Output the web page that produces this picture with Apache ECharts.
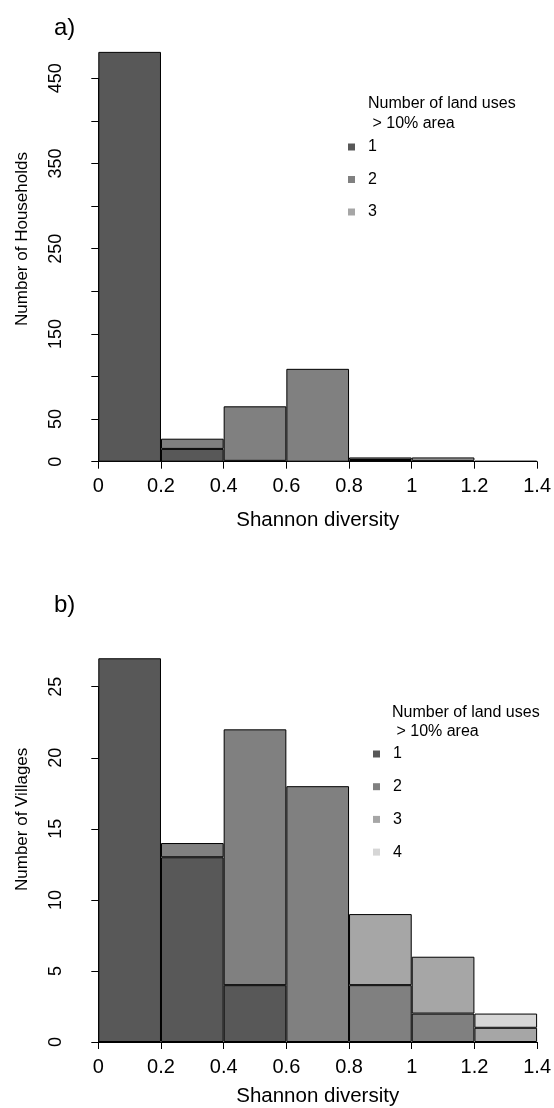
<!DOCTYPE html>
<html>
<head>
<meta charset="utf-8">
<script src="https://cdn.jsdelivr.net/npm/echarts@6/dist/echarts.min.js"></script>
<style>
html,body{margin:0;padding:0;background:#fff;}
#chart{width:554px;height:1108px;}
</style>
</head>
<body>
<div id="chart"></div>
<script>
// ---- data ----
var binLabels = ['0-0.2','0.2-0.4','0.4-0.6','0.6-0.8','0.8-1','1-1.2','1.2-1.4'];
var groupNames = ['1','2','3','4'];
var groupColors = ['#585858','#808080','#a6a6a6','#d6d6d6'];

// panel a) households, stacked by number of land uses
var households1 = [481, 15, 1, 0, 2, 0, 0];
var households2 = [0, 12, 64, 109, 3, 1, 0];
var households3 = [0, 0, 0, 0, 0, 4, 1];

// panel b) villages
var villages1 = [27, 13, 4, 0, 0, 0, 0];
var villages2 = [0, 1, 18, 18, 4, 2, 0];
var villages3 = [0, 0, 0, 0, 5, 4, 1];
var villages4 = [0, 0, 0, 0, 0, 0, 1];

var yLabelsTop = [0, 50, 150, 250, 350, 450];
var yLabelsBottom = [0, 5, 10, 15, 20, 25];
var xTickLabels = ['0','0.2','0.4','0.6','0.8','1','1.2','1.4'];

var FONT = "'Liberation Sans', Arial, Helvetica, sans-serif";

function barSeries(name, data, idx, gridIdx) {
  return {
    type: 'bar', name: name,
    // empty counts are not drawn (avoids doubled outlines on stacked tops)
    data: data.map(function (v) { return v === 0 ? '-' : v; }),
    stack: 'g' + gridIdx,
    xAxisIndex: gridIdx * 2, yAxisIndex: gridIdx,
    barWidth: '100%', barGap: '-100%', clip: false,
    itemStyle: {color: groupColors[idx], borderColor: '#000', borderWidth: 1},
    emphasis: {disabled: true}, animation: false
  };
}

function xAxes(gridIdx, nameGap) {
  return [
    {type: 'category', gridIndex: gridIdx, data: binLabels, show: false, boundaryGap: true},
    {type: 'value', gridIndex: gridIdx, min: 0, max: 1.4, interval: 0.2,
     position: 'bottom',
     name: 'Shannon diversity', nameLocation: 'middle', nameGap: nameGap,
     nameTextStyle: {fontFamily: FONT, fontSize: 20.5, color: '#000'},
     axisLine: {show: true, lineStyle: {color: '#000', width: 1}},
     axisTick: {show: true, length: 7, lineStyle: {color: '#000'}},
     axisLabel: {margin: 15, fontFamily: FONT, fontSize: 20, color: '#000',
       formatter: function (v) { return xTickLabels[Math.round(v / 0.2)]; }},
     splitLine: {show: false}}
  ];
}

function yAxis(gridIdx, max, interval, labels, name, pad) {
  return {
    type: 'value', gridIndex: gridIdx, min: 0, max: max, interval: interval,
    offset: 17,
    name: name, nameLocation: 'middle', nameGap: 50,
    nameTextStyle: {fontFamily: FONT, fontSize: 17, color: '#000', padding: [0, 0, 0, pad]},
    axisLine: {show: true, lineStyle: {color: '#000', width: 1}},
    axisTick: {show: true, length: 7, lineStyle: {color: '#000'}},
    axisLabel: {rotate: 90, margin: 16, fontFamily: FONT, fontSize: 18, color: '#000',
      formatter: function (v) { return labels.indexOf(v) >= 0 ? String(v) : ''; }},
    splitLine: {show: false}
  };
}

var titleStyle = {fontFamily: FONT, fontSize: 24, fontWeight: 'normal', color: '#000'};

var option = {
  backgroundColor: '#fff',
  animation: false,
  title: [
    {text: 'a)', left: 54, top: 16, padding: 0, textStyle: titleStyle},
    {text: 'b)', left: 54, top: 593, padding: 0, textStyle: titleStyle},
    {text: 'Number of land uses\n > 10% area', left: 368, top: 94, padding: 0,
     textStyle: {fontFamily: FONT, fontSize: 16, fontWeight: 'normal', color: '#000', lineHeight: 20}},
    {text: 'Number of land uses\n > 10% area', left: 392, top: 703, padding: 0,
     textStyle: {fontFamily: FONT, fontSize: 16, fontWeight: 'normal', color: '#000', lineHeight: 19}}
  ],
  legend: [
    {data: groupNames.slice(0, 3), orient: 'vertical', left: 348, top: 139, padding: 0,
     icon: 'rect', itemWidth: 7, itemHeight: 7, itemGap: 16.5, selectedMode: false,
     itemStyle: {borderWidth: 0},
     textStyle: {fontFamily: FONT, fontSize: 16, color: '#000', lineHeight: 16, padding: [0, 0, 0, 8]}},
    {data: groupNames.slice(0, 4), orient: 'vertical', left: 373, top: 746, padding: 0,
     icon: 'rect', itemWidth: 7, itemHeight: 7, itemGap: 16.7, selectedMode: false,
     itemStyle: {borderWidth: 0},
     textStyle: {fontFamily: FONT, fontSize: 16, color: '#000', lineHeight: 16, padding: [0, 0, 0, 8]}}
  ],
  grid: [
    {left: 98.3, right: 15.7, top: 78.3, height: 383.4, containLabel: false},
    {left: 98.3, right: 15.7, top: 686.7, height: 356.6, containLabel: false}
  ],
  xAxis: xAxes(0, 48).concat(xAxes(1, 44)),
  yAxis: [
    yAxis(0, 450, 50, yLabelsTop, 'Number of Households', 62),
    yAxis(1, 25, 5, yLabelsBottom, 'Number of Villages', 90)
  ],
  series: [
    barSeries('1', households1, 0, 0),
    barSeries('2', households2, 1, 0),
    barSeries('3', households3, 2, 0),
    barSeries('1', villages1, 0, 1),
    barSeries('2', villages2, 1, 1),
    barSeries('3', villages3, 2, 1),
    barSeries('4', villages4, 3, 1)
  ]
};

var chart = echarts.init(document.getElementById('chart'), null, {renderer: 'canvas'});
chart.setOption(option);
</script>
</body>
</html>
